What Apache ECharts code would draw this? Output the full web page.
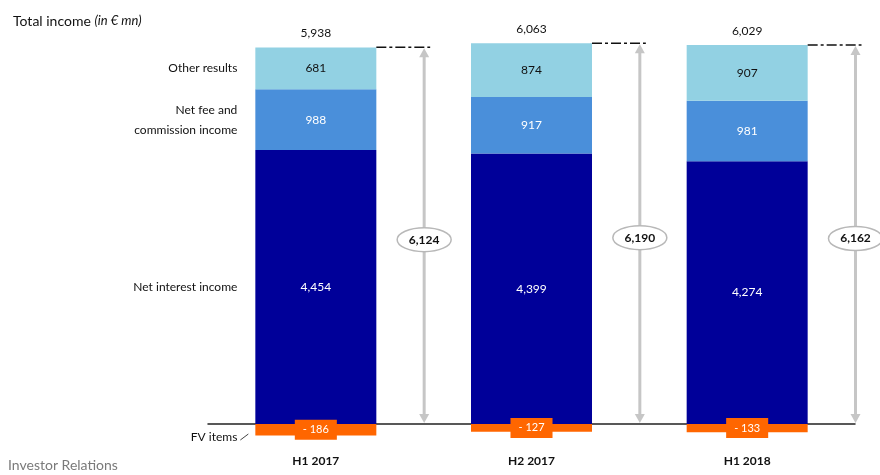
<!DOCTYPE html>
<html>
<head>
<meta charset="utf-8">
<script src="https://cdn.jsdelivr.net/npm/echarts@6/dist/echarts.min.js"></script>
<style>
  html, body { margin: 0; padding: 0; background: #fff; }
  #chart { width: 880px; height: 475px; }
</style>
</head>
<body>
<div id="chart"></div>
<script>
// Half-year periods
const categories = ['H1 2017', 'H2 2017', 'H1 2018'];

// Income components (EUR mn)
const netInterestIncome = [4454, 4399, 4274];
const netFeeIncome = [988, 917, 981];
const otherResults = [681, 874, 907];
const fvItems = [-186, -127, -133];

// Totals as reported (before and after FV items)
const grossTotals = [6124, 6190, 6162];
const netTotals = [5938, 6063, 6029];

// Row captions shown beside the first column
const rowCaptions = ['Other results', 'Net fee and\ncommission income', 'Net interest income'];

const FONT = 'Lato, "Open Sans", sans-serif';
const BAR_W = 121;

function fmt(v) {
  const s = String(Math.abs(v));
  return s.replace(/\B(?=(\d{3})+(?!\d))/g, ',');
}

const chart = echarts.init(document.getElementById('chart'), null, { renderer: 'canvas' });

const segLabel = (color) => ({
  show: true,
  position: 'inside',
  color: color,
  fontFamily: FONT,
  fontSize: 12,
  formatter: (p) => fmt(p.value)
});

// Gross-total arrows, dashed leaders, ellipse badges and net totals
function renderTotals(params, api) {
  const cat = api.value(0);
  const gross = api.value(1);
  const net = api.value(2);
  const zero = api.coord([cat, 0]);
  const top = api.coord([cat, gross]);
  const band = api.size([1, 0])[0];
  const cx = zero[0];
  const zeroY = zero[1];
  const topY = top[1];
  const ax = cx + band / 2 + 0.5;
  const midY = (topY + zeroY) / 2 + 4;
  const grey = '#c6c6c6';
  return {
    type: 'group',
    children: [
      { type: 'line', shape: { x1: cx + BAR_W / 2, y1: topY, x2: ax + 6, y2: topY },
        style: { stroke: '#111', lineWidth: 1.5, lineDash: [10, 3, 3, 3] } },
      { type: 'line', shape: { x1: ax, y1: topY + 7, x2: ax, y2: zeroY - 7 },
        style: { stroke: grey, lineWidth: 3 } },
      { type: 'polygon', shape: { points: [[ax, topY + 1], [ax - 5, topY + 10], [ax + 5, topY + 10]] },
        style: { fill: grey } },
      { type: 'polygon', shape: { points: [[ax, zeroY - 1], [ax - 5, zeroY - 10], [ax + 5, zeroY - 10]] },
        style: { fill: grey } },
      { type: 'ellipse', shape: { cx: ax, cy: midY, rx: 27, ry: 12 },
        style: { fill: '#fff', stroke: '#b8b8b8', lineWidth: 1.5 } },
      { type: 'text', x: ax, y: midY,
        style: { text: fmt(gross), fill: '#111', font: 'bold 12px ' + FONT, align: 'center', verticalAlign: 'middle' } },
      { type: 'text', x: cx, y: topY - 8,
        style: { text: fmt(net), fill: '#111', font: '12px ' + FONT, align: 'center', verticalAlign: 'bottom' } }
    ]
  };
}

// Row captions aligned with the segments of the first column
function renderCaptions(params, api) {
  const cat = api.value(0);
  const cZero = api.coord([cat, 0]);
  const xRight = cZero[0] - BAR_W / 2 - 18;
  const bounds = [
    [netInterestIncome[0] + netFeeIncome[0], netInterestIncome[0] + netFeeIncome[0] + otherResults[0]],
    [netInterestIncome[0], netInterestIncome[0] + netFeeIncome[0]],
    [0, netInterestIncome[0]]
  ];
  const children = bounds.map((b, i) => {
    const y = (api.coord([cat, b[0]])[1] + api.coord([cat, b[1]])[1]) / 2;
    return { type: 'text', x: xRight, y: y,
      style: { text: rowCaptions[i], fill: '#111', font: '12px ' + FONT, align: 'right',
        verticalAlign: 'middle', lineHeight: 20 } };
  });
  const fvY = cZero[1] + 13;
  children.push({ type: 'text', x: xRight, y: fvY,
    style: { text: 'FV items', fill: '#111', font: '12px ' + FONT, align: 'right', verticalAlign: 'middle' } });
  children.push({ type: 'line', shape: { x1: xRight + 3, y1: fvY + 3, x2: xRight + 11, y2: fvY - 3 },
    style: { stroke: '#444', lineWidth: 1 } });
  return { type: 'group', children: children };
}

const option = {
  animation: false,
  backgroundColor: '#fff',
  title: {
    left: 8, top: 9,
    text: '{a|Total income }{b|(in € mn)}',
    textStyle: {
      rich: {
        a: { fontFamily: FONT, fontSize: 14, fontWeight: 'normal', color: '#111' },
        b: { fontFamily: FONT, fontSize: 13, fontWeight: 'normal', fontStyle: 'italic', color: '#111' }
      }
    }
  },
  graphic: [
    { type: 'text', left: 8, top: 458,
      style: { text: 'Investor Relations', fill: '#7a7a7a', font: '14px ' + FONT } }
  ],
  grid: { left: 208, right: 25, top: 24.25, bottom: 20.25, outerBoundsMode: 'none', containLabel: false },
  xAxis: {
    type: 'category',
    data: categories,
    axisLine: { onZero: true, lineStyle: { color: '#222', width: 1.5 } },
    axisTick: { show: false },
    axisLabel: { margin: 0, color: '#111', fontFamily: FONT, fontSize: 12, fontWeight: 'bold' }
  },
  yAxis: {
    type: 'value', min: -500, max: 6500, show: false,
    splitLine: { show: false }
  },
  series: [
    { name: 'Net interest income', type: 'bar', stack: 'total', barWidth: BAR_W,
      data: netInterestIncome, itemStyle: { color: '#000099' }, label: segLabel('#fff') },
    { name: 'Net fee and commission income', type: 'bar', stack: 'total', barWidth: BAR_W,
      data: netFeeIncome, itemStyle: { color: '#4a8fda' }, label: segLabel('#fff') },
    { name: 'Other results', type: 'bar', stack: 'total', barWidth: BAR_W,
      data: otherResults, itemStyle: { color: '#92d1e3' }, label: segLabel('#111') },
    { name: 'FV items', type: 'bar', stack: 'total', barWidth: BAR_W,
      data: fvItems, itemStyle: { color: '#ff6600' },
      label: { show: true, position: 'inside', color: '#fff', fontFamily: FONT, fontSize: 11,
        backgroundColor: '#ff6600', padding: [5, 8, 4, 8],
        formatter: (p) => '- ' + fmt(p.value) } },
    { name: 'totals', type: 'custom', clip: false, z: 5,
      data: categories.map((c, i) => [i, grossTotals[i], netTotals[i]]),
      renderItem: renderTotals },
    { name: 'captions', type: 'custom', clip: false, z: 5,
      data: [[0]],
      renderItem: renderCaptions }
  ]
};

chart.setOption(option);
</script>
</body>
</html>
